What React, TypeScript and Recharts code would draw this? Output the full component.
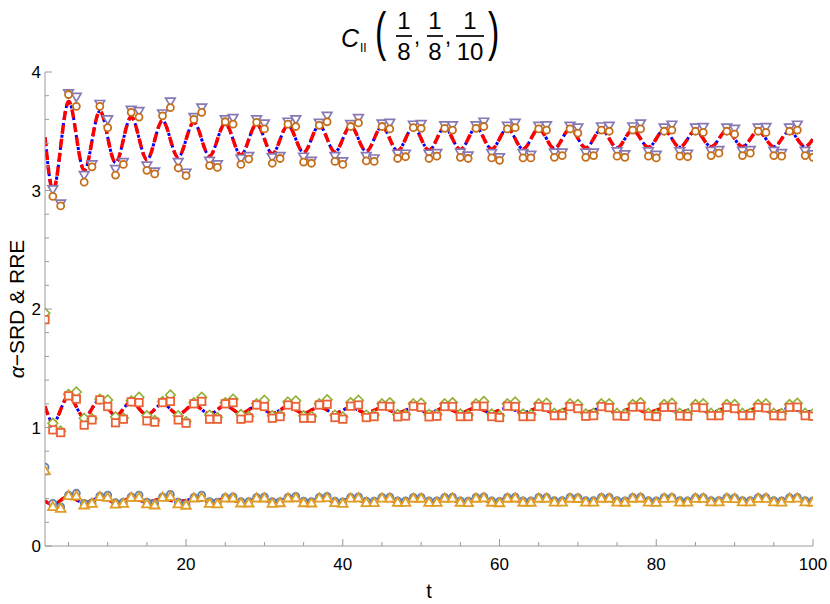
import React from 'react';
import { ComposedChart, Line, Scatter, XAxis, YAxis } from 'recharts';

// t = 2 .. 100
const T: number[] = Array.from({ length: 99 }, (_, i) => i + 2);

// upper group
const upperCircle: (number | null)[] = [
  null, 2.95, 2.87, 3.81, 3.71, 3.07, 3.2, 3.71, 3.53, 3.13, 3.22, 3.66,
  3.62, 3.17, 3.14, 3.63, 3.7, 3.19, 3.125, 3.6, 3.66, 3.21, 3.195, 3.58,
  3.56, 3.22, 3.265, 3.575, 3.52, 3.23, 3.27, 3.56, 3.54, 3.24, 3.23, 3.55,
  3.58, 3.245, 3.22, 3.54, 3.57, 3.25, 3.245, 3.54, 3.52, 3.27, 3.285, 3.53,
  3.525, 3.27, 3.29, 3.525, 3.51, 3.28, 3.27, 3.525, 3.54, 3.275, 3.255, 3.52,
  3.53, 3.275, 3.275, 3.52, 3.51, 3.28, 3.295, 3.52, 3.485, 3.28, 3.295, 3.51,
  3.5, 3.29, 3.28, 3.51, 3.52, 3.29, 3.275, 3.5, 3.51, 3.29, 3.285, 3.5,
  3.49, 3.295, 3.315, 3.5, 3.475, 3.295, 3.315, 3.5, 3.49, 3.295, 3.29, 3.5,
  3.51, 3.295, 3.28,
];
const upperTriangle: (number | null)[] = [
  null, 3.01, 2.89, 3.82, 3.79, 3.13, 3.22, 3.73, 3.6, 3.18, 3.24, 3.68,
  3.67, 3.21, 3.16, 3.65, 3.75, 3.24, 3.15, 3.62, 3.7, 3.25, 3.22, 3.6,
  3.61, 3.27, 3.29, 3.6, 3.565, 3.28, 3.29, 3.58, 3.6, 3.285, 3.25, 3.57,
  3.63, 3.29, 3.245, 3.56, 3.61, 3.29, 3.27, 3.565, 3.57, 3.31, 3.31, 3.555,
  3.56, 3.31, 3.315, 3.55, 3.55, 3.32, 3.295, 3.55, 3.58, 3.315, 3.28, 3.545,
  3.57, 3.315, 3.3, 3.545, 3.55, 3.32, 3.32, 3.545, 3.53, 3.32, 3.32, 3.54,
  3.545, 3.33, 3.305, 3.54, 3.565, 3.33, 3.3, 3.53, 3.555, 3.33, 3.31, 3.53,
  3.535, 3.335, 3.34, 3.53, 3.52, 3.335, 3.34, 3.53, 3.535, 3.335, 3.315, 3.53,
  3.555, 3.335, 3.305,
];
const upperLine: number[] = [
  3.45, 3.0, 3.37, 3.75, 3.46, 3.17, 3.42, 3.67, 3.45, 3.235, 3.43, 3.62,
  3.44, 3.26, 3.425, 3.59, 3.43, 3.28, 3.43, 3.575, 3.43, 3.29, 3.43, 3.565,
  3.43, 3.3, 3.43, 3.56, 3.435, 3.31, 3.43, 3.55, 3.435, 3.32, 3.435, 3.55,
  3.437, 3.325, 3.435, 3.545, 3.435, 3.33, 3.435, 3.54, 3.435, 3.335, 3.435, 3.535,
  3.437, 3.34, 3.435, 3.53, 3.437, 3.345, 3.437, 3.53, 3.44, 3.35, 3.437, 3.525,
  3.437, 3.35, 3.435, 3.52, 3.437, 3.355, 3.437, 3.52, 3.44, 3.36, 3.437, 3.515,
  3.437, 3.36, 3.437, 3.51, 3.437, 3.365, 3.437, 3.51, 3.437, 3.365, 3.435, 3.505,
  3.437, 3.37, 3.437, 3.505, 3.437, 3.37, 3.435, 3.5, 3.435, 3.37, 3.435, 3.5,
  3.435, 3.37, 3.435,
];

// middle group
const middleSquare: number[] = [
  1.91, 0.98, 0.957, 1.267, 1.24, 1.02, 1.064, 1.233, 1.177, 1.04, 1.07, 1.216,
  1.21, 1.056, 1.045, 1.21, 1.22, 1.064, 1.036, 1.2, 1.22, 1.07, 1.07, 1.2,
  1.21, 1.07, 1.08, 1.19, 1.177, 1.078, 1.092, 1.19, 1.177, 1.078, 1.078, 1.19,
  1.196, 1.084, 1.07, 1.18, 1.19, 1.084, 1.092, 1.18, 1.177, 1.09, 1.097, 1.18,
  1.17, 1.09, 1.095, 1.177, 1.177, 1.092, 1.092, 1.18, 1.18, 1.092, 1.084, 1.18,
  1.177, 1.092, 1.092, 1.177, 1.17, 1.1, 1.1, 1.177, 1.16, 1.095, 1.1, 1.177,
  1.168, 1.098, 1.095, 1.172, 1.175, 1.098, 1.092, 1.17, 1.172, 1.098, 1.095, 1.17,
  1.165, 1.1, 1.1, 1.17, 1.16, 1.1, 1.1, 1.17, 1.165, 1.1, 1.098, 1.17,
  1.172, 1.1, 1.095,
];
const middleDiamond: number[] = [
  1.965, 1.036, 0.97, 1.28, 1.3, 1.078, 1.075, 1.24, 1.233, 1.09, 1.08, 1.225,
  1.256, 1.1, 1.06, 1.22, 1.275, 1.1, 1.05, 1.21, 1.256, 1.105, 1.085, 1.21,
  1.24, 1.11, 1.095, 1.2, 1.23, 1.1, 1.105, 1.215, 1.225, 1.1, 1.095, 1.2,
  1.235, 1.105, 1.09, 1.21, 1.23, 1.105, 1.105, 1.2, 1.21, 1.11, 1.11, 1.2,
  1.205, 1.11, 1.11, 1.2, 1.21, 1.115, 1.105, 1.2, 1.22, 1.115, 1.1, 1.2,
  1.215, 1.115, 1.11, 1.2, 1.205, 1.12, 1.12, 1.2, 1.195, 1.115, 1.12, 1.2,
  1.2, 1.12, 1.115, 1.195, 1.21, 1.12, 1.11, 1.195, 1.205, 1.12, 1.115, 1.195,
  1.2, 1.12, 1.12, 1.195, 1.195, 1.12, 1.12, 1.195, 1.2, 1.12, 1.118, 1.195,
  1.205, 1.12, 1.115,
];
const middleLine: number[] = [
  1.18, 1.04, 1.15, 1.265, 1.175, 1.085, 1.16, 1.235, 1.17, 1.1, 1.157, 1.215,
  1.16, 1.108, 1.154, 1.2, 1.155, 1.112, 1.151, 1.19, 1.152, 1.115, 1.15, 1.185,
  1.151, 1.118, 1.149, 1.18, 1.15, 1.12, 1.148, 1.175, 1.148, 1.121, 1.147, 1.172,
  1.147, 1.122, 1.146, 1.17, 1.146, 1.123, 1.146, 1.168, 1.146, 1.124, 1.145, 1.166,
  1.145, 1.124, 1.145, 1.165, 1.145, 1.125, 1.145, 1.165, 1.145, 1.125, 1.145, 1.164,
  1.145, 1.125, 1.145, 1.164, 1.145, 1.126, 1.145, 1.163, 1.145, 1.126, 1.145, 1.163,
  1.145, 1.126, 1.145, 1.163, 1.145, 1.127, 1.145, 1.162, 1.145, 1.127, 1.145, 1.162,
  1.145, 1.127, 1.145, 1.162, 1.145, 1.127, 1.145, 1.162, 1.145, 1.127, 1.145, 1.162,
  1.145, 1.127, 1.145,
];

// lower group
const lowerCircle: number[] = [
  0.665, 0.36, 0.33, 0.43, 0.445, 0.36, 0.365, 0.42, 0.43, 0.365, 0.37, 0.415,
  0.43, 0.37, 0.36, 0.415, 0.435, 0.37, 0.355, 0.41, 0.43, 0.375, 0.37, 0.41,
  0.415, 0.375, 0.375, 0.41, 0.415, 0.375, 0.375, 0.41, 0.418, 0.378, 0.375, 0.41,
  0.418, 0.378, 0.372, 0.41, 0.415, 0.378, 0.378, 0.41, 0.412, 0.38, 0.38, 0.41,
  0.41, 0.38, 0.38, 0.41, 0.412, 0.38, 0.378, 0.41, 0.415, 0.38, 0.376, 0.41,
  0.412, 0.38, 0.38, 0.41, 0.41, 0.382, 0.382, 0.41, 0.408, 0.382, 0.382, 0.41,
  0.41, 0.382, 0.38, 0.41, 0.412, 0.382, 0.38, 0.408, 0.41, 0.382, 0.381, 0.408,
  0.408, 0.383, 0.383, 0.408, 0.406, 0.383, 0.383, 0.408, 0.408, 0.383, 0.381, 0.408,
  0.41, 0.383, 0.38,
];
const lowerTriangle: number[] = [
  0.636, 0.332, 0.318, 0.425, 0.422, 0.346, 0.36, 0.416, 0.41, 0.353, 0.36, 0.41,
  0.41, 0.355, 0.346, 0.41, 0.416, 0.355, 0.344, 0.405, 0.41, 0.36, 0.355, 0.405,
  0.405, 0.363, 0.363, 0.405, 0.405, 0.36, 0.365, 0.405, 0.407, 0.365, 0.363, 0.404,
  0.408, 0.366, 0.36, 0.404, 0.406, 0.366, 0.366, 0.404, 0.404, 0.368, 0.368, 0.403,
  0.403, 0.368, 0.368, 0.403, 0.404, 0.369, 0.366, 0.403, 0.406, 0.369, 0.365, 0.403,
  0.405, 0.369, 0.369, 0.403, 0.403, 0.37, 0.37, 0.403, 0.401, 0.37, 0.37, 0.403,
  0.403, 0.371, 0.369, 0.403, 0.405, 0.371, 0.368, 0.402, 0.404, 0.371, 0.37, 0.402,
  0.402, 0.372, 0.372, 0.402, 0.4, 0.372, 0.372, 0.402, 0.402, 0.372, 0.37, 0.402,
  0.404, 0.372, 0.369,
];
const lowerLine: number[] = [
  0.38, 0.35, 0.385, 0.42, 0.39, 0.365, 0.385, 0.405, 0.388, 0.37, 0.385, 0.4,
  0.387, 0.373, 0.385, 0.398, 0.386, 0.375, 0.385, 0.396, 0.386, 0.375, 0.385, 0.396,
  0.386, 0.376, 0.385, 0.395, 0.386, 0.376, 0.385, 0.395, 0.386, 0.376, 0.385, 0.395,
  0.386, 0.377, 0.386, 0.395, 0.386, 0.377, 0.386, 0.395, 0.386, 0.377, 0.386, 0.395,
  0.386, 0.377, 0.386, 0.395, 0.386, 0.377, 0.386, 0.395, 0.386, 0.378, 0.386, 0.395,
  0.386, 0.378, 0.386, 0.395, 0.386, 0.378, 0.386, 0.394, 0.386, 0.378, 0.386, 0.394,
  0.386, 0.378, 0.386, 0.394, 0.386, 0.378, 0.386, 0.394, 0.386, 0.378, 0.386, 0.394,
  0.386, 0.378, 0.386, 0.394, 0.386, 0.378, 0.386, 0.394, 0.386, 0.378, 0.386, 0.394,
  0.386, 0.378, 0.386,
];

const xTicks = [5, 10, 15, 20, 25, 30, 35, 40, 45, 50, 55, 60, 65, 70, 75, 80, 85, 90, 95, 100];
const xMajor = [20, 40, 60, 80, 100];
const yTicks = [0, 0.2, 0.4, 0.6, 0.8, 1, 1.2, 1.4, 1.6, 1.8, 2, 2.2, 2.4, 2.6, 2.8, 3, 3.2, 3.4, 3.6, 3.8, 4];
const yMajor = [0, 1, 2, 3, 4];

const FRAME = '#9a9a9a';
const FONT = '"Liberation Sans", Arial, sans-serif';
const TICK_FS = 17;

const toPts = (vals: (number | null)[]) =>
  vals.map((v, i) => ({ t: T[i], v })).filter((p) => p.v !== null);

const isMajorY = (v: number) => yMajor.some((m) => Math.abs(m - v) < 1e-6);

const BottomTick = (p: any) => {
  const v = p.payload.value;
  const major = xMajor.includes(v);
  return (
    <g>
      <line x1={p.x} x2={p.x} y1={p.y} y2={p.y - (major ? 7 : 4)} stroke={FRAME} />
      {major && (
        <text x={p.x} y={p.y + 24} textAnchor="middle" fontSize={TICK_FS} fontFamily={FONT} fill="#000">
          {v}
        </text>
      )}
    </g>
  );
};
const TopTick = (p: any) => {
  const v = p.payload.value;
  const major = xMajor.includes(v);
  return <line x1={p.x} x2={p.x} y1={p.y} y2={p.y + (major ? 7 : 4)} stroke={FRAME} />;
};
const LeftTick = (p: any) => {
  const v = p.payload.value;
  const major = isMajorY(v);
  return (
    <g>
      <line x1={p.x} x2={p.x + (major ? 7 : 4)} y1={p.y} y2={p.y} stroke={FRAME} />
      {major && (
        <text x={p.x - 4} y={p.y + 6} textAnchor="end" fontSize={TICK_FS} fontFamily={FONT} fill="#000">
          {Math.round(v)}
        </text>
      )}
    </g>
  );
};
const RightTick = (p: any) => {
  const v = p.payload.value;
  const major = isMajorY(v);
  return <line x1={p.x} x2={p.x - (major ? 7 : 4)} y1={p.y} y2={p.y} stroke={FRAME} />;
};

const circleShape = (color: string) => (p: any) =>
  <circle cx={p.cx} cy={p.cy} r={3.5} fill="#fff" stroke={color} strokeWidth={1.8} />;
const squareShape = (color: string) => (p: any) =>
  <rect x={p.cx - 3.7} y={p.cy - 3.7} width={7.4} height={7.4} fill="#fff" stroke={color} strokeWidth={1.8} />;
const diamondShape = (color: string) => (p: any) =>
  <path d={`M${p.cx},${p.cy - 4.8}L${p.cx + 4.8},${p.cy}L${p.cx},${p.cy + 4.8}L${p.cx - 4.8},${p.cy}Z`} fill="#fff" stroke={color} strokeWidth={1.6} />;
const triUpShape = (color: string) => (p: any) =>
  <path d={`M${p.cx},${p.cy - 4.8}L${p.cx + 4.8},${p.cy + 3.5}L${p.cx - 4.8},${p.cy + 3.5}Z`} fill="#fff" stroke={color} strokeWidth={1.8} />;
const triDownShape = (color: string) => (p: any) =>
  <path d={`M${p.cx},${p.cy + 4.8}L${p.cx + 4.8},${p.cy - 3.5}L${p.cx - 4.8},${p.cy - 3.5}Z`} fill="#fff" stroke={color} strokeWidth={1.7} />;

const lineGroups = [upperLine, middleLine, lowerLine];

function Title() {
  const frac = (cx: number, den: string, w: number) => (
    <g>
      <text x={cx} y={29} textAnchor="middle" fontSize={24} fontFamily={FONT}>1</text>
      <line x1={cx - w / 2} x2={cx + w / 2} y1={36} y2={36} stroke="#000" strokeWidth={1.7} />
      <text x={cx} y={60} textAnchor="middle" fontSize={24} fontFamily={FONT}>{den}</text>
    </g>
  );
  return (
    <svg width={830} height={70} style={{ position: 'absolute', left: 0, top: 0 }}>
      <text x={341} y={47} fontSize={25} fontStyle="italic" fontFamily={FONT}>C</text>
      <text x={360} y={52} fontSize={12} fontFamily={FONT}>II</text>
      <text transform="translate(375,50) scale(1,1.6)" fontSize={34} fontFamily={FONT}>(</text>
      {frac(404, '8', 16)}
      <text x={414} y={44} fontSize={22} fontFamily={FONT}>,</text>
      {frac(435, '8', 16)}
      <text x={445} y={44} fontSize={22} fontFamily={FONT}>,</text>
      {frac(470, '10', 28)}
      <text transform="translate(488,50) scale(1,1.6)" fontSize={34} fontFamily={FONT}>)</text>
    </svg>
  );
}

export default function App() {
  return (
    <div style={{ position: 'absolute', left: 0, top: 0, width: 830, height: 604, background: '#fff' }}>
      <ComposedChart width={830} height={604} margin={{ top: 72, right: 17, bottom: 28, left: 5 }}>
        <XAxis
          xAxisId="b"
          dataKey="t"
          type="number"
          domain={[2, 100]}
          ticks={xTicks}
          interval={0}
          allowDataOverflow
          tickSize={0}
          tickMargin={0}
          tickLine={false}
          axisLine={{ stroke: FRAME }}
          tick={<BottomTick />}
          height={30}
          orientation="bottom"
        />
        <XAxis
          xAxisId="top"
          dataKey="t"
          type="number"
          domain={[2, 100]}
          ticks={xTicks}
          interval={0}
          allowDataOverflow
          tickSize={0}
          tickMargin={0}
          tickLine={false}
          axisLine={{ stroke: FRAME }}
          tick={<TopTick />}
          height={0}
          orientation="top"
        />
        <YAxis
          yAxisId="l"
          type="number"
          domain={[0, 4]}
          ticks={yTicks}
          interval={0}
          allowDataOverflow
          tickSize={0}
          tickMargin={0}
          tickLine={false}
          axisLine={{ stroke: FRAME }}
          tick={<LeftTick />}
          width={40}
          orientation="left"
        />
        <YAxis
          yAxisId="r"
          type="number"
          domain={[0, 4]}
          ticks={yTicks}
          interval={0}
          allowDataOverflow
          tickSize={0}
          tickMargin={0}
          tickLine={false}
          axisLine={{ stroke: FRAME }}
          tick={<RightTick />}
          width={0}
          orientation="right"
        />
        {lineGroups.map((vals, i) => (
          <Line
            key={'b' + i}
            xAxisId="b"
            yAxisId="l"
            data={toPts(vals)}
            dataKey="v"
            type="natural"
            dot={false}
            stroke="#0000ff"
            strokeWidth={3}
            strokeDasharray="3 3"
            isAnimationActive={false}
          />
        ))}
        {lineGroups.map((vals, i) => (
          <Line
            key={'r' + i}
            xAxisId="b"
            yAxisId="l"
            data={toPts(vals)}
            dataKey="v"
            type="natural"
            dot={false}
            stroke="#ff0000"
            strokeWidth={3.5}
            strokeDasharray="9 5"
            isAnimationActive={false}
          />
        ))}
        <Scatter xAxisId="b" yAxisId="l" data={toPts(upperTriangle)} dataKey="v" shape={triDownShape('#8778B3')} isAnimationActive={false} />
        <Scatter xAxisId="b" yAxisId="l" data={toPts(upperCircle)} dataKey="v" shape={circleShape('#C56E1A')} isAnimationActive={false} />
        <Scatter xAxisId="b" yAxisId="l" data={toPts(middleDiamond)} dataKey="v" shape={diamondShape('#8FB032')} isAnimationActive={false} />
        <Scatter xAxisId="b" yAxisId="l" data={toPts(middleSquare)} dataKey="v" shape={squareShape('#EB6235')} isAnimationActive={false} />
        <Scatter xAxisId="b" yAxisId="l" data={toPts(lowerCircle)} dataKey="v" shape={circleShape('#5E81B5')} isAnimationActive={false} />
        <Scatter xAxisId="b" yAxisId="l" data={toPts(lowerTriangle)} dataKey="v" shape={triUpShape('#E19C24')} isAnimationActive={false} />
      </ComposedChart>
      <Title />
      <svg width={40} height={604} style={{ position: 'absolute', left: 0, top: 0 }}>
        <text transform="translate(24,309) rotate(-90)" textAnchor="middle" fontSize={21} fontFamily={FONT}>
          <tspan fontStyle="italic">α</tspan>
          <tspan>−SRD &amp; RRE</tspan>
        </text>
      </svg>
      <svg width={830} height={604} style={{ position: 'absolute', left: 0, top: 0, pointerEvents: 'none' }}>
        <text x={429} y={598} textAnchor="middle" fontSize={20} fontFamily={FONT}>t</text>
      </svg>
    </div>
  );
}
